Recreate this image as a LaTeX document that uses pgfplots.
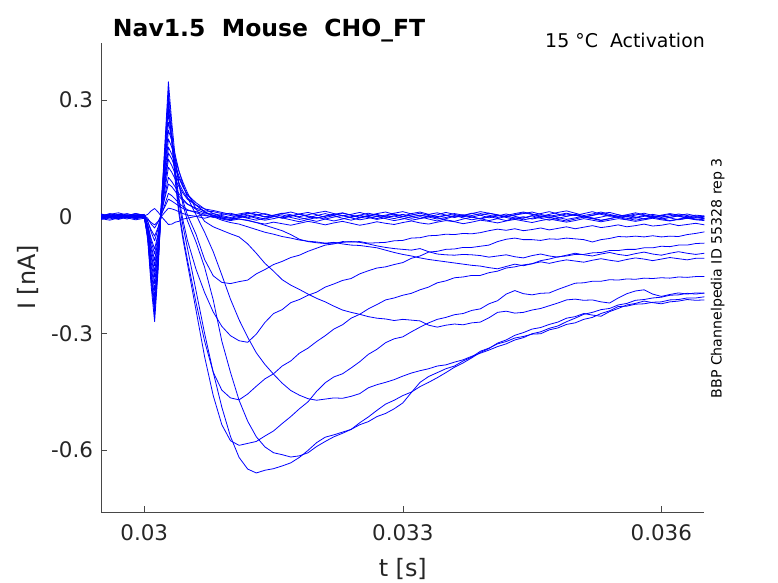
\documentclass[border=0pt]{standalone}
\usepackage{fontspec}
\setmainfont{DejaVu Sans}
\usepackage{pgfplots}
\pgfplotsset{compat=1.18}
\definecolor{axgray}{RGB}{38,38,38}
\definecolor{mblue}{RGB}{0,0,255}
\pgfplotsset{tr/.style={draw=mblue, line width=0.8bp, line join=round, mark=none}}
\begin{document}
\begin{tikzpicture}
\begin{axis}[
  at={(0,0)}, anchor=south west,
  scale only axis, width=603.2bp, height=469bp,
  xmin=29.5, xmax=36.5, ymin=-0.7594, ymax=0.4467,
  axis x line*=bottom, axis y line*=left,
  axis line style={-, draw=axgray!85, line width=0.6bp},
  tick align=inside, major tick length=6bp,
  tick style={draw=axgray!85, line width=0.6bp},
  xtick={30,33,36}, xticklabels={0.03,0.033,0.036},
  ytick={-0.6,-0.3,0,0.3}, yticklabels={-0.6,-0.3,0\phantom{.0},0.3},
  ticklabel style={font=\fontsize{21.5}{25}\selectfont, text=axgray},
  xticklabel style={inner sep=0pt, anchor=north, yshift=-12.3bp},
  yticklabel style={inner sep=0pt, anchor=east, xshift=-8bp},
  xlabel={t [s]}, ylabel={I [nA]},
  xlabel style={at={(axis description cs:0.5,-0.1205)}, anchor=center, inner sep=0pt, font=\fontsize{24}{28}\selectfont, text=axgray},
  ylabel style={at={(axis description cs:-0.1214,0.5)}, anchor=center, inner sep=0pt, font=\fontsize{24}{28}\selectfont, text=axgray, rotate=0},
  title={Nav1.5\ \ Mouse\ \ CHO\_FT},
  title style={at={(axis description cs:0.0192,1.0015)}, anchor=base west, inner sep=0pt, font=\bfseries\fontsize{23.6}{28}\selectfont, text=black},
  clip mode=individual,
  after end axis/.code={
    \node[anchor=base east, inner sep=0pt, font=\fontsize{19}{23}\selectfont, text=black] at (axis description cs:1.001,0.9908) {15 °C\ \ Activation};
    \node[rotate=90, anchor=base, inner sep=0pt, font=\fontsize{14.2}{17}\selectfont, text=black] at (axis description cs:1.0287,0.4983) {BBP Channelpedia ID 55328 rep 3};
  },
]
% b1
\addplot[tr] coordinates {(29.5,0.004)(29.6,-0.003)(29.7,0.006)(29.8,0.001)(29.9,0.007)(30,0.002)(30.04,0.006)(30.08,0.015)(30.12,0.021)(30.16,0.012)(30.2,0)(30.24,-0.01)(30.28,-0.02)(30.32,-0.019)(30.36,-0.014)(30.4,-0.012)(30.45,-0.006)(30.5,-0.004)(30.6,0.001)(30.7,0.005)(30.8,-0.002)(30.9,0.006)(31,0.009)(31.1,0.003)(31.2,-0.003)(31.3,0.004)(31.4,0.008)(31.5,0.002)(31.6,-0.004)(31.7,0.001)(31.8,0.007)(31.9,0.011)(32,0.005)(32.1,-0.002)(32.2,0.003)(32.3,0.009)(32.4,0.004)(32.5,-0.003)(32.6,0.002)(32.7,0.006)(32.8,0)(32.9,-0.005)(33,0.001)(33.1,0.008)(33.2,0.012)(33.3,0.006)(33.4,0)(33.5,0.004)(33.6,-0.002)(33.7,0.003)(33.8,0.009)(33.9,0.004)(34,-0.003)(34.1,0.002)(34.2,0.007)(34.3,0.001)(34.4,-0.004)(34.5,0.003)(34.6,0.008)(34.7,0.013)(34.8,0.007)(34.9,0.001)(35,0.005)(35.1,-0.001)(35.2,0.004)(35.3,0.009)(35.4,0.003)(35.5,-0.002)(35.6,0.002)(35.7,0.007)(35.8,0.003)(35.9,-0.003)(36,0.002)(36.1,0.006)(36.2,0.001)(36.3,-0.004)(36.4,0)(36.5,-0.003)};
% b2
\addplot[tr] coordinates {(29.5,-0.002)(29.6,0.005)(29.7,0)(29.8,-0.006)(29.9,0.002)(30,-0.003)(30.04,-0.007)(30.08,-0.015)(30.12,-0.021)(30.16,-0.012)(30.2,0.001)(30.24,0.012)(30.28,0.022)(30.32,0.02)(30.36,0.017)(30.4,0.013)(30.45,0.008)(30.5,0.004)(30.6,0.001)(30.7,-0.004)(30.8,0.002)(30.9,-0.003)(31,-0.008)(31.1,-0.002)(31.2,0.004)(31.3,-0.001)(31.4,-0.006)(31.5,0)(31.6,0.005)(31.7,-0.002)(31.8,-0.007)(31.9,-0.003)(32,0.003)(32.1,0.008)(32.2,0.002)(32.3,-0.004)(32.4,-0.009)(32.5,-0.003)(32.6,0.001)(32.7,-0.005)(32.8,0.002)(32.9,0.007)(33,0.001)(33.1,-0.004)(33.2,0)(33.3,-0.006)(33.4,-0.011)(33.5,-0.005)(33.6,0.001)(33.7,0.005)(33.8,-0.001)(33.9,-0.006)(34,0)(34.1,0.004)(34.2,-0.002)(34.3,-0.007)(34.4,-0.003)(34.5,0.002)(34.6,-0.004)(34.7,-0.009)(34.8,-0.004)(34.9,0.001)(35,0.006)(35.1,0)(35.2,-0.005)(35.3,-0.001)(35.4,0.004)(35.5,-0.002)(35.6,-0.007)(35.7,-0.002)(35.8,0.003)(35.9,-0.001)(36,-0.006)(36.1,-0.002)(36.2,0.002)(36.3,-0.003)(36.4,-0.007)(36.5,-0.004)};
% b3
\addplot[tr] coordinates {(29.5,0.007)(29.6,0.002)(29.7,-0.004)(29.8,0.003)(29.9,0.008)(30,0.003)(30.04,-0.004)(30.08,-0.019)(30.12,-0.029)(30.16,-0.014)(30.2,0.008)(30.24,0.026)(30.28,0.045)(30.32,0.04)(30.36,0.034)(30.4,0.028)(30.45,0.021)(30.5,0.016)(30.6,0.013)(30.7,0.007)(30.8,0.008)(30.9,0.003)(31,-0.002)(31.1,0.004)(31.2,0.009)(31.3,0.005)(31.4,-0.001)(31.5,0.003)(31.6,0.008)(31.7,0.012)(31.8,0.006)(31.9,0)(32,-0.004)(32.1,0.002)(32.2,0.007)(32.3,0.003)(32.4,-0.002)(32.5,0.004)(32.6,0.009)(32.7,0.004)(32.8,-0.001)(32.9,0.002)(33,0.006)(33.1,0.001)(33.2,-0.005)(33.3,0)(33.4,0.005)(33.5,0.011)(33.6,0.006)(33.7,0)(33.8,0.003)(33.9,0.008)(34,0.004)(34.1,-0.002)(34.2,0.003)(34.3,0.008)(34.4,0.012)(34.5,0.007)(34.6,0.001)(34.7,-0.003)(34.8,0.002)(34.9,0.007)(35,0.003)(35.1,0.008)(35.2,0.013)(35.3,0.006)(35.4,0.001)(35.5,0.005)(35.6,0)(35.7,-0.004)(35.8,0.001)(35.9,0.006)(36,0.002)(36.1,-0.002)(36.2,0.003)(36.3,0.007)(36.4,0.002)(36.5,0)};
% b4
\addplot[tr] coordinates {(29.5,-0.005)(29.6,-0.009)(29.7,-0.003)(29.8,0.002)(29.9,-0.004)(30,-0.001)(30.04,-0.013)(30.08,-0.034)(30.12,-0.05)(30.16,-0.027)(30.2,0.005)(30.24,0.032)(30.28,0.06)(30.32,0.054)(30.36,0.045)(30.4,0.035)(30.45,0.026)(30.5,0.018)(30.6,0.01)(30.7,0.003)(30.8,0)(30.9,-0.004)(31,-0.008)(31.1,-0.003)(31.2,0.002)(31.3,-0.004)(31.4,-0.009)(31.5,-0.005)(31.6,0)(31.7,0.004)(31.8,-0.002)(31.9,-0.007)(32,-0.012)(32.1,-0.006)(32.2,-0.001)(32.3,0.003)(32.4,-0.003)(32.5,-0.008)(32.6,-0.004)(32.7,0.001)(32.8,-0.005)(32.9,-0.01)(33,-0.006)(33.1,0)(33.2,0.004)(33.3,-0.001)(33.4,-0.006)(33.5,-0.002)(33.6,0.003)(33.7,-0.003)(33.8,-0.008)(33.9,-0.004)(34,0.001)(34.1,-0.005)(34.2,-0.01)(34.3,-0.004)(34.4,0)(34.5,-0.006)(34.6,-0.002)(34.7,0.003)(34.8,-0.002)(34.9,-0.007)(35,-0.003)(35.1,0.002)(35.2,-0.003)(35.3,-0.009)(35.4,-0.005)(35.5,0)(35.6,0.004)(35.7,-0.001)(35.8,-0.006)(35.9,-0.002)(36,0.003)(36.1,-0.003)(36.2,-0.008)(36.3,-0.004)(36.4,0)(36.5,-0.005)};
% b5
\addplot[tr] coordinates {(29.5,0.001)(29.6,0.006)(29.7,0.01)(29.8,0.004)(29.9,-0.001)(30,0.004)(30.04,-0.011)(30.08,-0.04)(30.12,-0.062)(30.16,-0.031)(30.2,0.013)(30.24,0.049)(30.28,0.084)(30.32,0.077)(30.36,0.065)(30.4,0.053)(30.45,0.041)(30.5,0.032)(30.6,0.022)(30.7,0.015)(30.8,0.013)(30.9,0.008)(31,0.003)(31.1,0.007)(31.2,0.011)(31.3,0.006)(31.4,0)(31.5,0.004)(31.6,0.009)(31.7,0.005)(31.8,0)(31.9,0.005)(32,0.01)(32.1,0.014)(32.2,0.008)(32.3,0.002)(32.4,0.006)(32.5,0.011)(32.6,0.005)(32.7,0)(32.8,0.004)(32.9,0.009)(33,0.013)(33.1,0.007)(33.2,0.002)(33.3,0.006)(33.4,0.01)(33.5,0.004)(33.6,-0.001)(33.7,0.003)(33.8,0.008)(33.9,0.013)(34,0.009)(34.1,0.004)(34.2,0)(34.3,0.005)(34.4,0.01)(34.5,0.006)(34.6,0.001)(34.7,0.006)(34.8,0.011)(34.9,0.015)(35,0.009)(35.1,0.003)(35.2,0.007)(35.3,0.012)(35.4,0.006)(35.5,0.001)(35.6,0.005)(35.7,0.01)(35.8,0.005)(35.9,0)(36,0.004)(36.1,0.008)(36.2,0.004)(36.3,0)(36.4,0.004)(36.5,0.002)};
% b6
\addplot[tr] coordinates {(29.5,-0.007)(29.6,-0.002)(29.7,0.003)(29.8,-0.003)(29.9,-0.008)(30,-0.004)(30.04,-0.021)(30.08,-0.057)(30.12,-0.083)(30.16,-0.044)(30.2,0.01)(30.24,0.055)(30.28,0.101)(30.32,0.09)(30.36,0.076)(30.4,0.06)(30.45,0.045)(30.5,0.033)(30.6,0.019)(30.7,0.01)(30.8,0.004)(30.9,-0.001)(31,-0.004)(31.1,0.001)(31.2,-0.004)(31.3,-0.009)(31.4,-0.004)(31.5,0.001)(31.6,-0.003)(31.7,-0.008)(31.8,-0.013)(31.9,-0.007)(32,-0.002)(32.1,-0.006)(32.2,-0.011)(32.3,-0.006)(32.4,0)(32.5,0.004)(32.6,-0.002)(32.7,-0.007)(32.8,-0.003)(32.9,0.002)(33,-0.004)(33.1,-0.009)(33.2,-0.005)(33.3,0.001)(33.4,-0.003)(33.5,-0.008)(33.6,-0.012)(33.7,-0.006)(33.8,-0.001)(33.9,-0.005)(34,-0.01)(34.1,-0.005)(34.2,0.001)(34.3,-0.003)(34.4,-0.008)(34.5,-0.004)(34.6,0.002)(34.7,-0.002)(34.8,-0.007)(34.9,-0.011)(35,-0.006)(35.1,-0.001)(35.2,-0.005)(35.3,-0.01)(35.4,-0.005)(35.5,0)(35.6,-0.004)(35.7,-0.009)(35.8,-0.005)(35.9,-0.001)(36,-0.005)(36.1,-0.01)(36.2,-0.006)(36.3,-0.002)(36.4,-0.006)(36.5,-0.008)};
% b7
\addplot[tr] coordinates {(29.5,0.003)(29.6,-0.002)(29.7,-0.007)(29.8,-0.001)(29.9,0.005)(30,0.001)(30.04,-0.021)(30.08,-0.064)(30.12,-0.096)(30.16,-0.049)(30.2,0.015)(30.24,0.07)(30.28,0.127)(30.32,0.114)(30.36,0.096)(30.4,0.078)(30.45,0.06)(30.5,0.045)(30.6,0.03)(30.7,0.02)(30.8,0.016)(30.9,0.011)(31,0.006)(31.1,0.002)(31.2,0.007)(31.3,0.012)(31.4,0.006)(31.5,0.001)(31.6,-0.003)(31.7,0.002)(31.8,0.007)(31.9,0.002)(32,-0.003)(32.1,0.001)(32.2,0.006)(32.3,0.01)(32.4,0.004)(32.5,-0.001)(32.6,0.003)(32.7,0.008)(32.8,0.012)(32.9,0.006)(33,0)(33.1,0.004)(33.2,0.009)(33.3,0.003)(33.4,-0.002)(33.5,0.003)(33.6,0.008)(33.7,0.004)(33.8,-0.001)(33.9,0.004)(34,0.009)(34.1,0.005)(34.2,0)(34.3,0.004)(34.4,0.008)(34.5,0.012)(34.6,0.006)(34.7,0.001)(34.8,0.005)(34.9,0.009)(35,0.004)(35.1,-0.001)(35.2,0.003)(35.3,0.008)(35.4,0.011)(35.5,0.005)(35.6,0)(35.7,0.004)(35.8,0.009)(35.9,0.003)(36,-0.002)(36.1,0.002)(36.2,0.007)(36.3,0.003)(36.4,-0.002)(36.5,0.001)};
% T1
\addplot[tr] coordinates {(29.5,-0.004)(29.6,0.001)(29.7,0.006)(29.8,0.002)(29.9,-0.003)(30,0)(30.04,-0.025)(30.08,-0.075)(30.12,-0.112)(30.16,-0.058)(30.2,0.018)(30.24,0.082)(30.28,0.148)(30.32,0.131)(30.36,0.11)(30.4,0.087)(30.45,0.065)(30.5,0.048)(30.6,0.03)(30.7,0.013)(30.8,0.003)(30.9,-0.006)(31,-0.01)(31.1,-0.006)(31.2,-0.01)(31.3,-0.015)(31.4,-0.019)(31.5,-0.014)(31.6,-0.018)(31.7,-0.022)(31.8,-0.017)(31.9,-0.012)(32,-0.016)(32.1,-0.021)(32.2,-0.016)(32.3,-0.012)(32.4,-0.017)(32.5,-0.022)(32.6,-0.018)(32.7,-0.013)(32.8,-0.017)(32.9,-0.02)(33,-0.015)(33.1,-0.011)(33.2,-0.016)(33.3,-0.019)(33.4,-0.014)(33.5,-0.01)(33.6,-0.013)(33.7,-0.018)(33.8,-0.014)(33.9,-0.009)(34,-0.012)(34.1,-0.016)(34.2,-0.011)(34.3,-0.007)(34.4,-0.011)(34.5,-0.015)(34.6,-0.01)(34.7,-0.006)(34.8,-0.01)(34.9,-0.014)(35,-0.01)(35.1,-0.005)(35.2,-0.009)(35.3,-0.013)(35.4,-0.009)(35.5,-0.005)(35.6,-0.008)(35.7,-0.012)(35.8,-0.008)(35.9,-0.004)(36,-0.008)(36.1,-0.011)(36.2,-0.007)(36.3,-0.004)(36.4,-0.008)(36.5,-0.01)};
% T3
\addplot[tr] coordinates {(29.5,0.005)(29.6,0)(29.7,-0.004)(29.8,0.003)(29.9,0.008)(30,0.004)(30.04,-0.025)(30.08,-0.083)(30.12,-0.126)(30.16,-0.064)(30.2,0.021)(30.24,0.091)(30.28,0.164)(30.32,0.148)(30.36,0.124)(30.4,0.1)(30.45,0.076)(30.5,0.057)(30.6,0.036)(30.7,0.02)(30.8,0.008)(30.9,0)(31,-0.004)(31.1,-0.006)(31.2,-0.009)(31.3,-0.015)(31.4,-0.022)(31.5,-0.029)(31.6,-0.036)(31.7,-0.046)(31.8,-0.058)(31.9,-0.064)(32,-0.067)(32.1,-0.069)(32.2,-0.068)(32.3,-0.066)(32.4,-0.064)(32.5,-0.066)(32.6,-0.07)(32.7,-0.075)(32.8,-0.079)(32.9,-0.082)(33,-0.084)(33.1,-0.086)(33.2,-0.082)(33.3,-0.09)(33.4,-0.096)(33.5,-0.098)(33.6,-0.099)(33.7,-0.097)(33.8,-0.098)(33.9,-0.1)(34,-0.104)(34.1,-0.101)(34.2,-0.098)(34.3,-0.103)(34.4,-0.106)(34.5,-0.1)(34.6,-0.096)(34.7,-0.101)(34.8,-0.104)(34.9,-0.099)(35,-0.094)(35.1,-0.098)(35.2,-0.101)(35.3,-0.096)(35.4,-0.092)(35.5,-0.097)(35.6,-0.1)(35.7,-0.095)(35.8,-0.091)(35.9,-0.096)(36,-0.099)(36.1,-0.094)(36.2,-0.09)(36.3,-0.094)(36.4,-0.097)(36.5,-0.094)};
% T4
\addplot[tr] coordinates {(29.5,-0.006)(29.6,-0.001)(29.7,0.004)(29.8,0)(29.9,-0.005)(30,-0.002)(30.04,-0.033)(30.08,-0.096)(30.12,-0.141)(30.16,-0.074)(30.2,0.02)(30.24,0.098)(30.28,0.179)(30.32,0.16)(30.36,0.133)(30.4,0.106)(30.45,0.078)(30.5,0.056)(30.6,0.03)(30.7,0.012)(30.8,0)(30.9,-0.009)(31,-0.015)(31.1,-0.019)(31.2,-0.026)(31.3,-0.033)(31.4,-0.04)(31.5,-0.045)(31.6,-0.051)(31.7,-0.055)(31.8,-0.06)(31.9,-0.063)(32,-0.065)(32.1,-0.068)(32.2,-0.066)(32.3,-0.07)(32.4,-0.073)(32.5,-0.074)(32.6,-0.077)(32.7,-0.08)(32.8,-0.086)(32.9,-0.092)(33,-0.097)(33.1,-0.101)(33.2,-0.106)(33.3,-0.11)(33.4,-0.113)(33.5,-0.116)(33.6,-0.119)(33.7,-0.122)(33.8,-0.125)(33.9,-0.127)(34,-0.131)(34.1,-0.134)(34.2,-0.128)(34.3,-0.122)(34.4,-0.126)(34.5,-0.121)(34.6,-0.116)(34.7,-0.12)(34.8,-0.115)(34.9,-0.111)(35,-0.114)(35.1,-0.117)(35.2,-0.112)(35.3,-0.108)(35.4,-0.112)(35.5,-0.115)(35.6,-0.11)(35.7,-0.106)(35.8,-0.109)(35.9,-0.113)(36,-0.109)(36.1,-0.105)(36.2,-0.108)(36.3,-0.111)(36.4,-0.107)(36.5,-0.107)};
% P7
\addplot[tr] coordinates {(29.5,0.002)(29.6,0.007)(29.7,0.003)(29.8,-0.003)(29.9,0.001)(30,0.005)(30.04,-0.032)(30.08,-0.103)(30.12,-0.155)(30.16,-0.08)(30.2,0.024)(30.24,0.11)(30.28,0.2)(30.32,0.178)(30.36,0.148)(30.4,0.118)(30.45,0.088)(30.5,0.062)(30.6,0.02)(30.7,-0.012)(30.8,-0.026)(30.9,-0.035)(31,-0.044)(31.1,-0.052)(31.2,-0.07)(31.3,-0.094)(31.4,-0.12)(31.5,-0.14)(31.6,-0.162)(31.7,-0.176)(31.8,-0.187)(31.9,-0.199)(32,-0.21)(32.1,-0.219)(32.2,-0.23)(32.3,-0.24)(32.4,-0.246)(32.5,-0.251)(32.6,-0.257)(32.7,-0.261)(32.8,-0.263)(32.9,-0.267)(33,-0.264)(33.1,-0.266)(33.2,-0.268)(33.3,-0.279)(33.4,-0.284)(33.5,-0.279)(33.6,-0.276)(33.7,-0.278)(33.8,-0.273)(33.9,-0.271)(34,-0.26)(34.1,-0.246)(34.2,-0.243)(34.3,-0.248)(34.4,-0.246)(34.5,-0.24)(34.6,-0.236)(34.7,-0.229)(34.8,-0.222)(34.9,-0.214)(35,-0.212)(35.1,-0.215)(35.2,-0.214)(35.3,-0.219)(35.4,-0.222)(35.5,-0.209)(35.6,-0.198)(35.7,-0.191)(35.8,-0.188)(35.9,-0.199)(36,-0.205)(36.1,-0.2)(36.2,-0.196)(36.3,-0.199)(36.4,-0.196)(36.5,-0.197)};
% P4
\addplot[tr] coordinates {(29.5,-0.003)(29.6,0.002)(29.7,-0.005)(29.8,-0.001)(29.9,0.004)(30,0)(30.04,-0.038)(30.08,-0.116)(30.12,-0.172)(30.16,-0.089)(30.2,0.027)(30.24,0.123)(30.28,0.222)(30.32,0.195)(30.36,0.158)(30.4,0.12)(30.45,0.082)(30.5,0.05)(30.6,0.005)(30.7,-0.04)(30.8,-0.09)(30.9,-0.15)(31,-0.212)(31.1,-0.265)(31.2,-0.31)(31.3,-0.35)(31.4,-0.38)(31.5,-0.405)(31.6,-0.428)(31.7,-0.447)(31.8,-0.459)(31.9,-0.468)(32,-0.472)(32.1,-0.469)(32.2,-0.466)(32.3,-0.467)(32.4,-0.462)(32.5,-0.455)(32.6,-0.44)(32.7,-0.432)(32.8,-0.426)(32.9,-0.419)(33,-0.41)(33.1,-0.402)(33.2,-0.396)(33.3,-0.391)(33.4,-0.384)(33.5,-0.381)(33.6,-0.374)(33.7,-0.368)(33.8,-0.359)(33.9,-0.351)(34,-0.343)(34.1,-0.334)(34.2,-0.327)(34.3,-0.317)(34.4,-0.311)(34.5,-0.301)(34.6,-0.296)(34.7,-0.287)(34.8,-0.281)(34.9,-0.27)(35,-0.261)(35.1,-0.251)(35.2,-0.246)(35.3,-0.239)(35.4,-0.236)(35.5,-0.227)(35.6,-0.223)(35.7,-0.215)(35.8,-0.213)(35.9,-0.209)(36,-0.207)(36.1,-0.202)(36.2,-0.201)(36.3,-0.197)(36.4,-0.199)(36.5,-0.196)};
% P2
\addplot[tr] coordinates {(29.5,0.006)(29.6,0.001)(29.7,-0.003)(29.8,0.004)(29.9,0)(30,-0.004)(30.04,-0.045)(30.08,-0.127)(30.12,-0.19)(30.16,-0.1)(30.2,0.027)(30.24,0.133)(30.28,0.243)(30.32,0.2)(30.36,0.14)(30.4,0.085)(30.45,0.03)(30.5,-0.01)(30.6,-0.065)(30.7,-0.13)(30.8,-0.214)(30.9,-0.32)(31,-0.4)(31.1,-0.472)(31.2,-0.526)(31.3,-0.566)(31.4,-0.592)(31.5,-0.607)(31.6,-0.612)(31.7,-0.618)(31.8,-0.615)(31.9,-0.607)(32,-0.591)(32.1,-0.578)(32.2,-0.566)(32.3,-0.557)(32.4,-0.547)(32.5,-0.53)(32.6,-0.515)(32.7,-0.498)(32.8,-0.482)(32.9,-0.472)(33,-0.46)(33.1,-0.451)(33.2,-0.437)(33.3,-0.426)(33.4,-0.414)(33.5,-0.401)(33.6,-0.387)(33.7,-0.376)(33.8,-0.363)(33.9,-0.349)(34,-0.339)(34.1,-0.325)(34.2,-0.317)(34.3,-0.305)(34.4,-0.298)(34.5,-0.289)(34.6,-0.285)(34.7,-0.277)(34.8,-0.271)(34.9,-0.261)(35,-0.257)(35.1,-0.249)(35.2,-0.253)(35.3,-0.256)(35.4,-0.244)(35.5,-0.236)(35.6,-0.227)(35.7,-0.223)(35.8,-0.217)(35.9,-0.221)(36,-0.224)(36.1,-0.219)(36.2,-0.217)(36.3,-0.213)(36.4,-0.215)(36.5,-0.214)};
% P1
\addplot[tr] coordinates {(29.5,-0.001)(29.6,-0.006)(29.7,0)(29.8,0.005)(29.9,0.001)(30,-0.002)(30.04,-0.048)(30.08,-0.14)(30.12,-0.208)(30.16,-0.107)(30.2,0.032)(30.24,0.147)(30.28,0.268)(30.32,0.19)(30.36,0.11)(30.4,0.04)(30.45,-0.025)(30.5,-0.08)(30.6,-0.19)(30.7,-0.3)(30.8,-0.4)(30.9,-0.49)(31,-0.565)(31.1,-0.619)(31.2,-0.649)(31.3,-0.659)(31.4,-0.652)(31.5,-0.648)(31.6,-0.641)(31.7,-0.633)(31.8,-0.619)(31.9,-0.601)(32,-0.581)(32.1,-0.567)(32.2,-0.561)(32.3,-0.554)(32.4,-0.547)(32.5,-0.535)(32.6,-0.527)(32.7,-0.514)(32.8,-0.506)(32.9,-0.494)(33,-0.479)(33.1,-0.452)(33.2,-0.426)(33.3,-0.411)(33.4,-0.401)(33.5,-0.391)(33.6,-0.384)(33.7,-0.371)(33.8,-0.361)(33.9,-0.346)(34,-0.338)(34.1,-0.327)(34.2,-0.321)(34.3,-0.312)(34.4,-0.308)(34.5,-0.302)(34.6,-0.301)(34.7,-0.291)(34.8,-0.286)(34.9,-0.277)(35,-0.273)(35.1,-0.264)(35.2,-0.259)(35.3,-0.249)(35.4,-0.242)(35.5,-0.231)(35.6,-0.23)(35.7,-0.225)(35.8,-0.224)(35.9,-0.22)(36,-0.219)(36.1,-0.214)(36.2,-0.213)(36.3,-0.209)(36.4,-0.209)(36.5,-0.206)};
% P3
\addplot[tr] coordinates {(29.5,0.003)(29.6,-0.002)(29.7,0.004)(29.8,0.008)(29.9,0.002)(30,-0.001)(30.04,-0.051)(30.08,-0.15)(30.12,-0.225)(30.16,-0.115)(30.2,0.034)(30.24,0.158)(30.28,0.288)(30.32,0.19)(30.36,0.09)(30.4,0.01)(30.45,-0.06)(30.5,-0.12)(30.6,-0.24)(30.7,-0.36)(30.8,-0.46)(30.9,-0.535)(31,-0.576)(31.1,-0.588)(31.2,-0.583)(31.3,-0.578)(31.4,-0.564)(31.5,-0.551)(31.6,-0.532)(31.7,-0.514)(31.8,-0.494)(31.9,-0.476)(32,-0.449)(32.1,-0.427)(32.2,-0.412)(32.3,-0.404)(32.4,-0.389)(32.5,-0.373)(32.6,-0.354)(32.7,-0.341)(32.8,-0.324)(32.9,-0.314)(33,-0.309)(33.1,-0.296)(33.2,-0.284)(33.3,-0.273)(33.4,-0.264)(33.5,-0.259)(33.6,-0.252)(33.7,-0.249)(33.8,-0.241)(33.9,-0.237)(34,-0.224)(34.1,-0.216)(34.2,-0.199)(34.3,-0.19)(34.4,-0.198)(34.5,-0.201)(34.6,-0.197)(34.7,-0.196)(34.8,-0.187)(34.9,-0.179)(35,-0.171)(35.1,-0.17)(35.2,-0.166)(35.3,-0.166)(35.4,-0.162)(35.5,-0.163)(35.6,-0.16)(35.7,-0.161)(35.8,-0.158)(35.9,-0.159)(36,-0.157)(36.1,-0.158)(36.2,-0.155)(36.3,-0.156)(36.4,-0.154)(36.5,-0.154)};
% P5
\addplot[tr] coordinates {(29.5,-0.004)(29.6,0.001)(29.7,0.006)(29.8,0)(29.9,-0.005)(30,0.002)(30.04,-0.052)(30.08,-0.158)(30.12,-0.239)(30.16,-0.122)(30.2,0.036)(30.24,0.168)(30.28,0.305)(30.32,0.2)(30.36,0.1)(30.4,0.02)(30.45,-0.05)(30.5,-0.11)(30.6,-0.22)(30.7,-0.32)(30.8,-0.4)(30.9,-0.446)(31,-0.466)(31.1,-0.471)(31.2,-0.456)(31.3,-0.436)(31.4,-0.417)(31.5,-0.404)(31.6,-0.384)(31.7,-0.371)(31.8,-0.351)(31.9,-0.338)(32,-0.321)(32.1,-0.306)(32.2,-0.289)(32.3,-0.278)(32.4,-0.261)(32.5,-0.251)(32.6,-0.237)(32.7,-0.226)(32.8,-0.214)(32.9,-0.209)(33,-0.202)(33.1,-0.197)(33.2,-0.188)(33.3,-0.181)(33.4,-0.17)(33.5,-0.165)(33.6,-0.157)(33.7,-0.155)(33.8,-0.151)(33.9,-0.151)(34,-0.144)(34.1,-0.14)(34.2,-0.132)(34.3,-0.129)(34.4,-0.124)(34.5,-0.121)(34.6,-0.113)(34.7,-0.109)(34.8,-0.103)(34.9,-0.101)(35,-0.097)(35.1,-0.097)(35.2,-0.093)(35.3,-0.092)(35.4,-0.087)(35.5,-0.087)(35.6,-0.084)(35.7,-0.084)(35.8,-0.08)(35.9,-0.08)(36,-0.076)(36.1,-0.077)(36.2,-0.073)(36.3,-0.073)(36.4,-0.069)(36.5,-0.068)};
% P6
\addplot[tr] coordinates {(29.5,0.002)(29.6,0.008)(29.7,0.003)(29.8,-0.002)(29.9,0.003)(30,0.006)(30.04,-0.053)(30.08,-0.165)(30.12,-0.25)(30.16,-0.128)(30.2,0.039)(30.24,0.179)(30.28,0.324)(30.32,0.22)(30.36,0.12)(30.4,0.05)(30.45,-0.01)(30.5,-0.06)(30.6,-0.135)(30.7,-0.195)(30.8,-0.245)(30.9,-0.282)(31,-0.306)(31.1,-0.319)(31.2,-0.323)(31.3,-0.302)(31.4,-0.272)(31.5,-0.249)(31.6,-0.239)(31.7,-0.221)(31.8,-0.213)(31.9,-0.202)(32,-0.194)(32.1,-0.181)(32.2,-0.173)(32.3,-0.164)(32.4,-0.159)(32.5,-0.147)(32.6,-0.139)(32.7,-0.132)(32.8,-0.129)(32.9,-0.123)(33,-0.118)(33.1,-0.107)(33.2,-0.101)(33.3,-0.091)(33.4,-0.089)(33.5,-0.084)(33.6,-0.083)(33.7,-0.079)(33.8,-0.079)(33.9,-0.076)(34,-0.073)(34.1,-0.064)(34.2,-0.058)(34.3,-0.055)(34.4,-0.059)(34.5,-0.059)(34.6,-0.061)(34.7,-0.057)(34.8,-0.058)(34.9,-0.055)(35,-0.057)(35.1,-0.059)(35.2,-0.065)(35.3,-0.059)(35.4,-0.056)(35.5,-0.051)(35.6,-0.052)(35.7,-0.05)(35.8,-0.052)(35.9,-0.049)(36,-0.052)(36.1,-0.05)(36.2,-0.051)(36.3,-0.046)(36.4,-0.043)(36.5,-0.039)};
% P8
\addplot[tr] coordinates {(29.5,-0.003)(29.6,0.003)(29.7,-0.001)(29.8,0.004)(29.9,-0.002)(30,0.001)(30.04,-0.06)(30.08,-0.179)(30.12,-0.27)(30.16,-0.139)(30.2,0.041)(30.24,0.19)(30.28,0.347)(30.32,0.24)(30.36,0.15)(30.4,0.09)(30.45,0.04)(30.5,0.005)(30.6,-0.045)(30.7,-0.11)(30.8,-0.152)(30.9,-0.169)(31,-0.172)(31.1,-0.167)(31.2,-0.163)(31.3,-0.147)(31.4,-0.136)(31.5,-0.123)(31.6,-0.115)(31.7,-0.105)(31.8,-0.099)(31.9,-0.089)(32,-0.081)(32.1,-0.073)(32.2,-0.07)(32.3,-0.064)(32.4,-0.065)(32.5,-0.064)(32.6,-0.068)(32.7,-0.067)(32.8,-0.066)(32.9,-0.062)(33,-0.061)(33.1,-0.055)(33.2,-0.054)(33.3,-0.049)(33.4,-0.048)(33.5,-0.045)(33.6,-0.046)(33.7,-0.043)(33.8,-0.044)(33.9,-0.041)(34,-0.036)(34.1,-0.032)(34.2,-0.035)(34.3,-0.031)(34.4,-0.036)(34.5,-0.033)(34.6,-0.029)(34.7,-0.034)(34.8,-0.03)(34.9,-0.026)(35,-0.031)(35.1,-0.027)(35.2,-0.023)(35.3,-0.028)(35.4,-0.025)(35.5,-0.021)(35.6,-0.026)(35.7,-0.023)(35.8,-0.019)(35.9,-0.024)(36,-0.022)(36.1,-0.018)(36.2,-0.023)(36.3,-0.02)(36.4,-0.017)(36.5,-0.021)};
\end{axis}
\pgfresetboundingbox
\useasboundingbox (-101.2bp,-71bp) rectangle (676.8bp,512bp);
\end{tikzpicture}
\end{document}
